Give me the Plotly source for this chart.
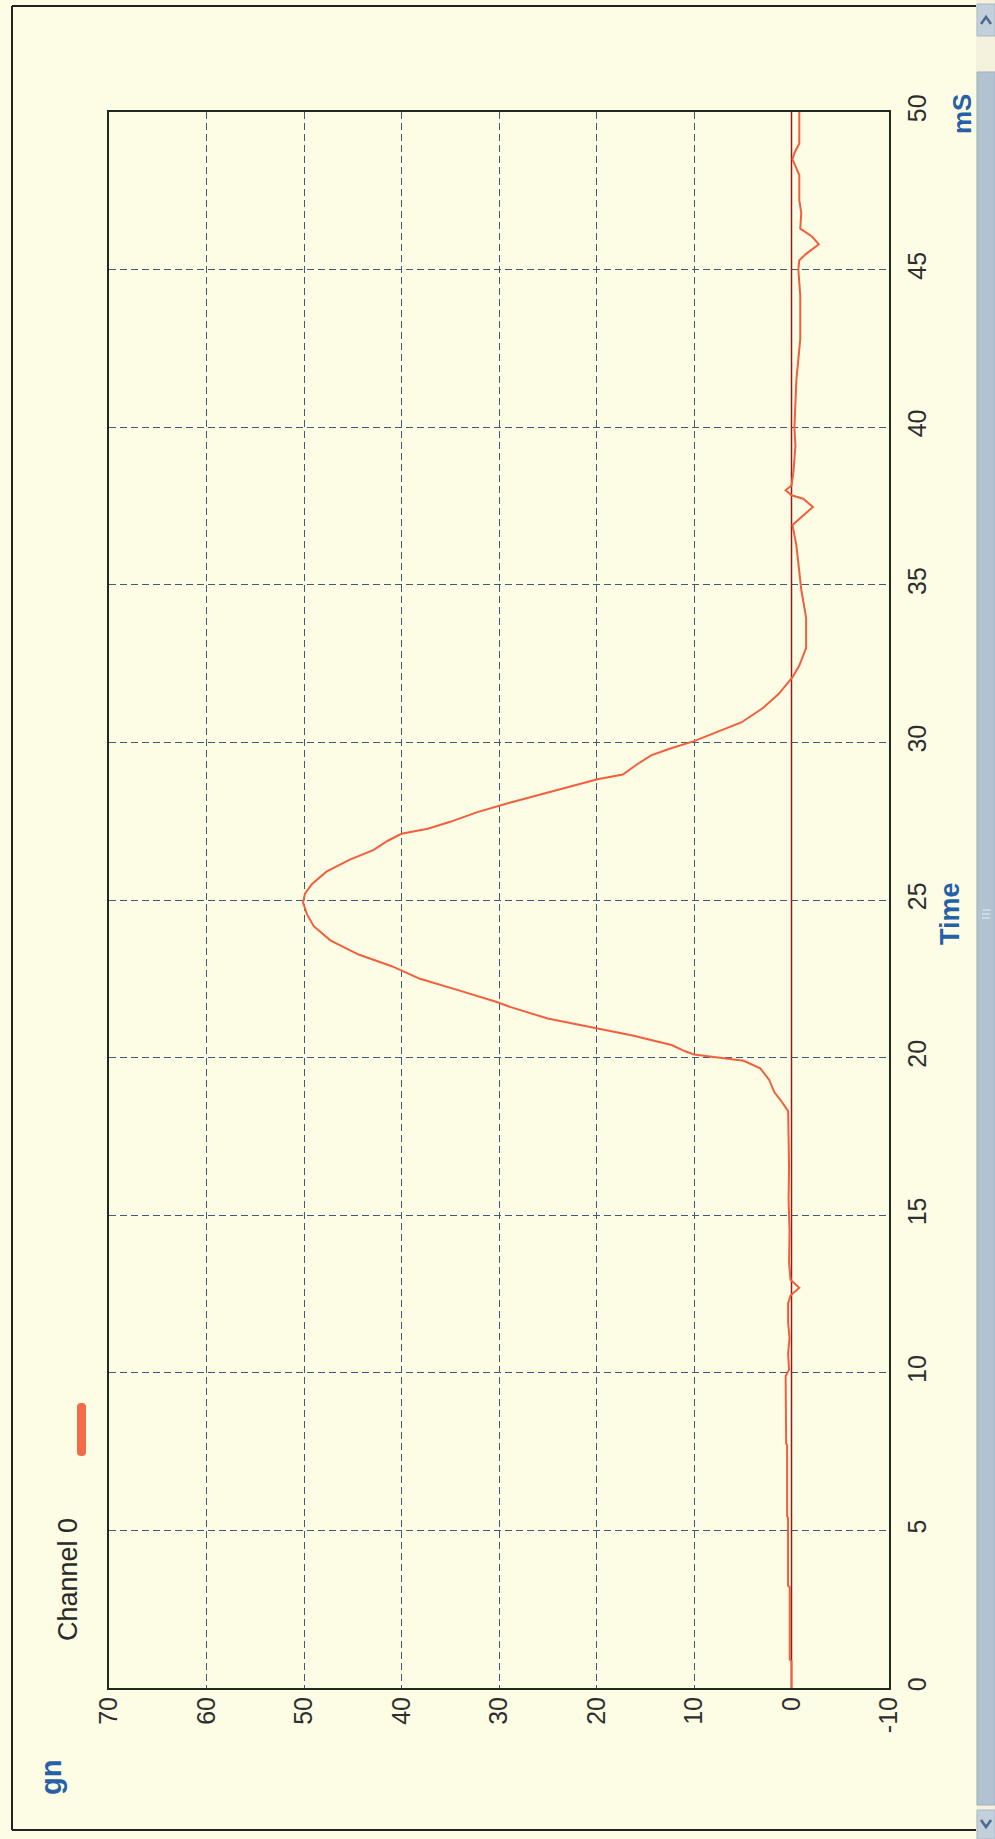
import plotly.graph_objects as go

# ---- data ----
time_ms = [0, 0.85, 0.9, 3.2, 3.25, 5.4, 5.45, 7.7, 7.75, 9.9, 10.1, 10.6, 11.1, 11.6, 12.2,
           12.45, 12.7, 12.95, 13.5, 14.5, 15.5, 16.5, 17.5, 18.3, 18.6, 18.9, 19.3, 19.66,
           19.9, 20.04, 20.1, 20.2, 20.4, 20.7, 20.94, 21.1, 21.24, 21.6, 21.77, 22.14, 22.5,
           22.9, 23.27, 23.72, 24.17, 24.55, 24.92, 25.2, 25.5, 25.9, 26.28, 26.58, 26.88,
           27.1, 27.26, 27.48, 27.78, 28.08, 28.38, 28.68, 28.83, 28.98, 29.29, 29.59, 29.8,
           30.04, 30.34, 30.64, 31.1, 31.54, 32.07, 32.44, 33.0, 33.95, 34.85, 35.75, 36.25,
           36.9, 37.1, 37.47, 37.73, 37.84, 38.0, 38.15, 38.58, 39.4, 40.0, 41.5, 42.8, 44.17,
           45.0, 45.3, 45.5, 45.8, 46.05, 46.3, 46.8, 47.2, 48.0, 48.5, 48.7, 49.0, 50.0]
accel_gn = [0, 0, 0.18, 0.18, 0.36, 0.36, 0.45, 0.45, 0.55, 0.6, 0.25, 0.35, 0.2, 0.35, 0.35,
            0.1, -0.8, 0.1, 0.25, 0.2, 0.3, 0.25, 0.3, 0.35, 1.0, 1.75, 2.3, 3.2,
            4.9, 8.5, 10.0, 10.9, 12.3, 16.3, 20.1, 22.6, 25.0, 28.8, 30.3, 34.2, 38.1,
            41.0, 44.4, 47.3, 49.0, 49.7, 50.1, 49.9, 49.2, 47.7, 45.3, 42.9, 41.4,
            40.0, 37.3, 35.0, 32.3, 29.0, 25.3, 21.8, 19.9, 17.3, 15.9, 14.4, 12.5,
            10.0, 7.5, 5.1, 2.9, 1.3, -0.1, -0.8, -1.5, -1.5, -1.0, -0.7, -0.5,
            -0.1, -0.8, -2.2, -1.2, 0.0, 0.6, 0.0, -0.2, -0.4, -0.3, -0.5, -0.9, -0.9,
            -0.7, -0.8, -1.5, -2.8, -2.1, -0.9, -1.0, -0.8, -0.8, -0.1, -0.3, -0.8, -0.8]
baseline_time = [0, 50]
baseline_gn = [0, 0]
value_ticks = [70, 60, 50, 40, 30, 20, 10, 0, -10]
time_ticks = [0, 5, 10, 15, 20, 25, 30, 35, 40, 45, 50]
series_name = "Channel 0"

# ---- layout geometry (pixels) ----
W, H = 995, 1839
L, R, T, B = 109, 889, 112, 1688


def px(X):
    return (X - L) / (R - L)


def py(Y):
    return (B - Y) / (B - T)


BG = "#fdfce5"
GRID = "#3f5b7a"
BLUE = "#2660a6"
TICKFONT = dict(family="Liberation Sans, Arial", size=25, color="#2e2e2e")

fig = go.Figure()
fig.add_trace(go.Scatter(x=baseline_gn, y=baseline_time, mode="lines",
                         line=dict(color="#8e1e1e", width=1.5), hoverinfo="skip", showlegend=False))
fig.add_trace(go.Scatter(x=accel_gn, y=time_ms, mode="lines", name=series_name,
                         line=dict(color="#f0603e", width=2), showlegend=False))

axis_common = dict(showgrid=True, gridcolor=GRID, griddash="7px,4px", gridwidth=1.4,
                   zeroline=False, showline=True, mirror=True, linecolor="#1e2a20", linewidth=2,
                   ticks="", tickangle=-90, tickfont=TICKFONT)

fig.update_xaxes(range=[70, -10], tickvals=value_ticks, ticktext=[str(v) for v in value_ticks],
                 ticklabelstandoff=-3, **axis_common)
fig.update_yaxes(range=[0, 50], side="right", tickvals=time_ticks,
                 ticktext=[str(t) for t in time_ticks], ticklabelstandoff=5, **axis_common)

shapes = []
# outer window frame
frame = dict(type="line", xref="paper", yref="paper", line=dict(color="#222222", width=2))
shapes.append(dict(frame, x0=px(12), y0=py(6), x1=px(976), y1=py(6)))
shapes.append(dict(frame, x0=px(12), y0=py(6), x1=px(12), y1=py(1830)))
shapes.append(dict(frame, x0=px(12), y0=py(1830), x1=px(976), y1=py(1830)))
# scrollbar
shapes.append(dict(type="rect", xref="paper", yref="paper", x0=px(976), x1=px(995), y0=py(0), y1=py(1839),
                   fillcolor="#f4f1dc", line=dict(width=0), layer="below"))
shapes.append(dict(type="rect", xref="paper", yref="paper", x0=px(977), x1=px(995), y0=py(72), y1=py(1805),
                   fillcolor="#b3c2d1", line=dict(color="#a0b0c0", width=1)))
shapes.append(dict(type="rect", xref="paper", yref="paper", x0=px(977), x1=px(995), y0=py(4), y1=py(36),
                   fillcolor="#c3cfdb", line=dict(color="#aab8c6", width=1)))
shapes.append(dict(type="rect", xref="paper", yref="paper", x0=px(977), x1=px(995), y0=py(1810), y1=py(1839),
                   fillcolor="#c3cfdb", line=dict(color="#aab8c6", width=1)))
# arrows on scrollbar buttons
shapes.append(dict(type="path", xref="paper", yref="paper",
                   path=f"M {px(981)} {py(24)} L {px(986)} {py(17)} L {px(991)} {py(24)}",
                   line=dict(color="#4c6b8c", width=2.5)))
shapes.append(dict(type="path", xref="paper", yref="paper",
                   path=f"M {px(981)} {py(1820)} L {px(986)} {py(1827)} L {px(991)} {py(1820)}",
                   line=dict(color="#4c6b8c", width=2.5)))
# scrollbar grip
for gy in (910, 914, 918):
    shapes.append(dict(type="line", xref="paper", yref="paper", x0=px(982), x1=px(990), y0=py(gy), y1=py(gy),
                       line=dict(color="#e8eef4", width=1)))
# legend swatch (rounded bar)
sx0, sx1, sy0, sy1, r = 77, 86, 1403, 1456, 4


def P(X, Y):
    return f"{px(X)},{py(Y)}"


swatch = (f"M {P(sx0 + r, sy0)} L {P(sx1 - r, sy0)} Q {P(sx1, sy0)} {P(sx1, sy0 + r)} "
          f"L {P(sx1, sy1 - r)} Q {P(sx1, sy1)} {P(sx1 - r, sy1)} L {P(sx0 + r, sy1)} "
          f"Q {P(sx0, sy1)} {P(sx0, sy1 - r)} L {P(sx0, sy0 + r)} Q {P(sx0, sy0)} {P(sx0 + r, sy0)} Z")
shapes.append(dict(type="path", xref="paper", yref="paper", path=swatch,
                   fillcolor="#f36b47", line=dict(width=0)))

annotations = [
    dict(text="gn", x=px(51), y=py(1778), textangle=-90,
         font=dict(family="Liberation Sans, Arial", size=29, color=BLUE, weight="bold")),
    dict(text="Time", x=px(950), y=py(914), textangle=-90,
         font=dict(family="Liberation Sans, Arial", size=27, color=BLUE, weight="bold")),
    dict(text="mS", x=px(962), y=py(114), textangle=-90,
         font=dict(family="Liberation Sans, Arial", size=26, color=BLUE, weight="bold")),
    dict(text=series_name, x=px(68), y=py(1580), textangle=-90,
         font=dict(family="Liberation Sans, Arial", size=27, color="#2a2a2a")),
]
for a in annotations:
    a.update(xref="paper", yref="paper", showarrow=False, xanchor="center", yanchor="middle")

fig.update_layout(width=W, height=H, margin=dict(l=L, r=W - R, t=T, b=H - B, pad=0),
                  paper_bgcolor=BG, plot_bgcolor=BG, shapes=shapes, annotations=annotations,
                  showlegend=False)

fig.write_html("out.html", config={"displayModeBar": False},
               post_script="document.body.style.margin='0';document.body.style.background='" + BG + "';")
